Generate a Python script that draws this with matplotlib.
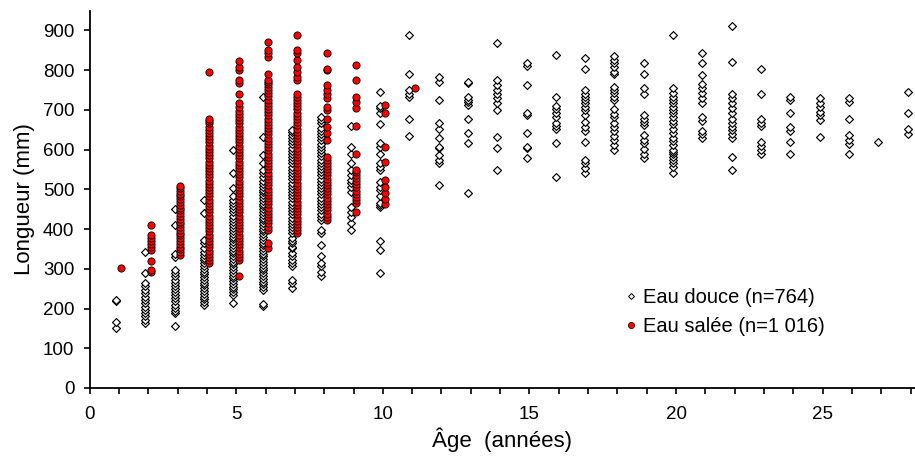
import matplotlib.pyplot as plt
from matplotlib.lines import Line2D

# ages (années) and longueurs (mm)
ages_douce = list(range(1, 29))
longueurs_douce = [
    [150, 167, 218, 222],
    [163, 172, 180, 188, 197, 205, 214, 222, 230, 238, 247, 256, 265, 289, 342],
    [155, 188, 195, 202, 210, 218, 226, 234, 242, 250, 257, 264, 272, 281, 289, 297, 329, 338, 409, 450],
    [209, 216, 223, 230, 237, 244, 251, 258, 265, 272, 279, 286, 293, 300, 307, 314, 321, 328, 335, 342,
     352, 364, 373, 440, 473],
    [215, 234, 241, 248, 255, 262, 269, 276, 283, 290, 297, 304, 311, 318, 325, 332, 339, 346, 353, 360,
     367, 374, 381, 388, 395, 402, 410, 418, 426, 434, 442, 450, 458, 466, 473, 482, 503, 540, 599],
    [207, 212, 247, 254, 261, 268, 275, 282, 289, 296, 303, 310, 317, 324, 331, 338, 345, 352, 359, 366,
     373, 380, 387, 394, 401, 408, 415, 422, 429, 436, 443, 450, 457, 464, 471, 478, 485, 492, 499, 506,
     513, 520, 532, 540, 549, 565, 586, 632, 733],
    [251, 264, 272, 306, 314, 322, 331, 339, 352, 356, 364, 369, 378, 389, 397, 405, 413, 421, 429, 437,
     445, 453, 461, 469, 477, 485, 493, 501, 509, 517, 525, 533, 541, 549, 557, 565, 573, 581, 589, 597,
     605, 613, 621, 629, 637, 643, 649],
    [281, 293, 306, 314, 331, 360, 389, 398, 423, 431, 439, 447, 455, 463, 471, 479, 487, 495, 503, 511,
     519, 527, 535, 543, 551, 559, 567, 575, 583, 591, 599, 607, 615, 623, 631, 639, 647, 655, 666, 674, 683],
    [398, 415, 431, 444, 456, 494, 506, 515, 523, 536, 549, 565, 590, 607, 659],
    [289, 348, 369, 456, 461, 465, 482, 498, 505, 519, 549, 556, 565, 589, 607, 616, 664, 691, 704, 709, 745],
    [634, 678, 733, 741, 750, 791, 888],
    [511, 565, 574, 586, 603, 607, 628, 653, 666, 724, 771, 783],
    [490, 616, 641, 678, 712, 720, 724, 733, 767, 771],
    [549, 605, 632, 699, 716, 729, 741, 751, 762, 775, 867],
    [580, 603, 607, 641, 687, 691, 762, 810, 817],
    [530, 616, 651, 659, 667, 681, 691, 701, 709, 733, 838],
    [542, 553, 565, 574, 620, 647, 657, 670, 687, 699, 708, 716, 724, 733, 741, 750, 803, 831],
    [600, 611, 624, 634, 646, 657, 667, 681, 690, 701, 724, 733, 742, 751, 758, 790, 796, 808, 817, 825, 835],
    [578, 590, 601, 616, 625, 636, 662, 670, 678, 687, 741, 756, 791, 818],
    [542, 556, 565, 575, 582, 589, 594, 600, 611, 622, 630, 641, 653, 664, 672, 683, 691, 699, 708, 716,
     724, 733, 742, 754, 888],
    [630, 639, 646, 672, 681, 718, 729, 742, 756, 766, 787, 817, 843],
    [549, 582, 630, 639, 649, 657, 667, 678, 691, 704, 716, 729, 739, 820, 911],
    [590, 600, 609, 620, 659, 666, 678, 741, 803],
    [589, 618, 647, 657, 691, 724, 733],
    [632, 674, 687, 695, 706, 716, 729],
    [590, 613, 625, 636, 678, 720, 729],
    [618],
    [639, 653, 691, 745],
]

ages_salee = list(range(1, 12))
longueurs_salee = [
    [301],
    [291, 297, 320, 348, 356, 363, 370, 377, 385, 410],
    [335, 342, 349, 356, 363, 370, 377, 384, 391, 398, 405, 412, 419, 426, 433, 440, 447, 454, 461, 468,
     475, 482, 489, 496, 503, 508],
    [314, 322, 330, 338, 346, 354, 362, 370, 378, 386, 394, 402, 410, 418, 426, 434, 442, 450, 458, 466,
     474, 482, 490, 498, 506, 514, 522, 530, 538, 546, 554, 562, 570, 578, 586, 594, 602, 610, 618, 626,
     634, 642, 650, 658, 666, 672, 676, 794],
    [281, 322, 330, 338, 346, 354, 362, 370, 378, 386, 394, 402, 410, 418, 426, 434, 442, 450, 458, 466,
     474, 482, 490, 498, 506, 514, 522, 530, 538, 546, 554, 562, 570, 578, 586, 594, 602, 610, 618, 626,
     634, 642, 650, 658, 666, 674, 682, 690, 698, 706, 716, 739, 768, 775, 800, 808, 822],
    [352, 364, 398, 406, 414, 422, 430, 438, 446, 454, 462, 470, 478, 486, 494, 502, 510, 518, 526, 534,
     542, 550, 558, 566, 574, 582, 590, 598, 606, 614, 622, 630, 638, 646, 654, 662, 670, 678, 686, 694,
     702, 710, 718, 726, 734, 742, 750, 758, 766, 770, 775, 791, 833, 842, 850, 871],
    [389, 397, 405, 413, 421, 429, 437, 445, 453, 461, 469, 477, 485, 493, 501, 509, 517, 525, 533, 541,
     549, 557, 565, 573, 581, 589, 597, 605, 613, 621, 629, 637, 645, 653, 661, 669, 677, 685, 693, 701,
     709, 717, 725, 733, 741, 775, 783, 796, 808, 825, 842, 850, 888],
    [423, 431, 439, 447, 455, 463, 471, 479, 487, 495, 503, 511, 519, 527, 535, 543, 551, 559, 567, 574,
     582, 624, 641, 657, 678, 699, 708, 729, 741, 750, 762, 800, 804, 842],
    [444, 465, 473, 481, 489, 497, 505, 513, 521, 529, 537, 544, 549, 590, 659, 704, 720, 733, 775, 812],
    [463, 475, 490, 505, 523, 570, 607, 691, 712],
    [756],
]

x_d, y_d = [], []
for a, vals in zip(ages_douce, longueurs_douce):
    x_d += [a - 0.1] * len(vals)
    y_d += vals
x_s, y_s = [], []
for a, vals in zip(ages_salee, longueurs_salee):
    x_s += [a + 0.08] * len(vals)
    y_s += vals

plt.rcParams['font.family'] = ['Liberation Sans', 'DejaVu Sans']

fig = plt.figure(figsize=(9.15, 4.57), dpi=100)
ax = fig.add_axes([0.098, 0.151, 0.902, 0.826])

ax.scatter(x_d, y_d, marker='D', s=16, facecolor='white', edgecolor='black', linewidths=0.85, zorder=3)
ax.scatter(x_s, y_s, marker='o', s=27, facecolor='#ff0000', edgecolor='black', linewidths=0.6, zorder=4)

ax.set_xlim(0, 28.15)
ax.set_ylim(0, 950)
ax.set_xticks([0, 5, 10, 15, 20, 25])
ax.set_xticks(range(0, 29), minor=True)
ax.set_yticks(range(0, 901, 100))
ax.tick_params(axis='both', which='both', direction='out', length=4, width=1.2, labelsize=13.5)
ax.tick_params(axis='x', which='major', pad=9)
ax.tick_params(axis='y', which='major', pad=7)
ax.spines['top'].set_visible(False)
ax.spines['right'].set_visible(False)
ax.spines['left'].set_linewidth(1.3)
ax.spines['bottom'].set_linewidth(1.3)
ax.set_xlabel('Âge  (années)', fontsize=16, labelpad=3)
ax.set_ylabel('Longueur (mm)', fontsize=16, labelpad=6)

handles = [
    Line2D([], [], ls='none', marker='D', ms=3, mfc='white', mec='black', mew=0.7),
    Line2D([], [], ls='none', marker='o', ms=4.5, mfc='#ff0000', mec='black', mew=0.5),
]
ax.legend(handles, ['Eau douce (n=764)', 'Eau salée (n=1 016)'], loc='upper left',
          bbox_to_anchor=(612 / 915, 1 - 274 / 457), bbox_transform=fig.transFigure,
          frameon=False, fontsize=14.5, handlelength=0.5, handletextpad=0.35, labelspacing=0.5,
          borderpad=0.2)

fig.savefig('out.png', dpi=100)
